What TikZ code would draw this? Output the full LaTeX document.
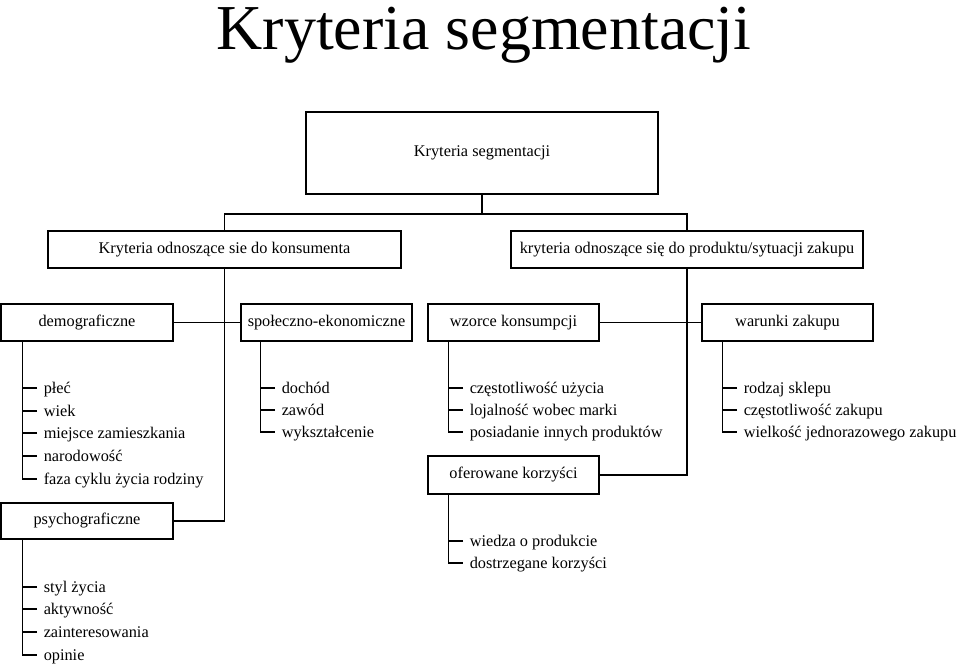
\documentclass[tikz,border=0pt]{standalone}
\usepackage{fontspec}
\setmainfont{Liberation Serif}

\begin{document}
\begin{tikzpicture}[x=1pt, y=-1pt, line width=1.5pt,
  box/.style = {draw, minimum width=171pt, minimum height=37pt, inner sep=0pt, font=\fontsize{16.3}{19}\selectfont},
  item/.style = {anchor=west, inner xsep=6pt, inner ysep=0pt, text height=12pt, text depth=2pt, font=\fontsize{16.3}{19}\selectfont}]
\useasboundingbox (0,0) rectangle (960,665);

\node (title) [anchor=base, inner sep=0pt, font=\fontsize{64}{70}\selectfont] at (484,49) {Kryteria segmentacji};

\node (root) [box, minimum width=352pt, minimum height=82pt] at (482,153) {Kryteria segmentacji};
\node (kons) [box, minimum width=353pt] at (224.5,249.5) {Kryteria odnoszące sie do konsumenta};
\node (prod) [box, minimum width=352pt] at (687,249.5) {kryteria odnoszące się do produktu/sytuacji zakupu};

\node (demo) [box, minimum width=172pt] at (87,322.5) {demograficzne};
\node (spol) [box] at (326.5,322.5) {społeczno-ekonomiczne};
\node (wzor) [box] at (513.5,322.5) {wzorce konsumpcji};
\node (waru) [box] at (787.5,322.5) {warunki zakupu};
\node (psych) [box, minimum width=172pt, minimum height=36pt] at (87,521) {psychograficzne};
\node (ofer) [box, minimum height=38pt] at (513.5,475) {oferowane korzyści};

\draw (root.south) -- ++(0,19) -| (kons.north);
\draw (root.south) -- ++(0,19) -| (prod.north);
\draw (kons.south) |- (psych.east);
\draw (prod.south) |- (ofer.east);
\draw (demo.east) -- (spol.west);
\draw (wzor.east) -- (waru.west);

% demograficzne
\node (d1) [item] at (37,388) {płeć};
\node (d2) [item] at (37,411) {wiek};
\node (d3) [item] at (37,433) {miejsce zamieszkania};
\node (d4) [item] at (37,456) {narodowość};
\node (d5) [item] at (37,479) {faza cyklu życia rodziny};
\draw ([xshift=22pt]demo.south west) |- (d5.west);
\foreach \i in {1,...,4} \draw (d\i.west) -- ++(-14,0);

% spoleczno-ekonomiczne
\node (s1) [item] at (275,388) {dochód};
\node (s2) [item] at (275,410) {zawód};
\node (s3) [item] at (275,432) {wykształcenie};
\draw ([xshift=20pt]spol.south west) |- (s3.west);
\foreach \i in {1,2} \draw (s\i.west) -- ++(-14,0);

% wzorce konsumpcji
\node (w1) [item] at (463,388) {częstotliwość użycia};
\node (w2) [item] at (463,410) {lojalność wobec marki};
\node (w3) [item] at (463,432) {posiadanie innych produktów};
\draw ([xshift=21pt]wzor.south west) |- (w3.west);
\foreach \i in {1,2} \draw (w\i.west) -- ++(-14,0);

% warunki zakupu
\node (z1) [item] at (737,388) {rodzaj sklepu};
\node (z2) [item] at (737,410) {częstotliwość zakupu};
\node (z3) [item] at (737,432) {wielkość jednorazowego zakupu};
\draw ([xshift=21pt]waru.south west) |- (z3.west);
\foreach \i in {1,2} \draw (z\i.west) -- ++(-14,0);

% psychograficzne
\node (p1) [item] at (37,587) {styl życia};
\node (p2) [item] at (37,609) {aktywność};
\node (p3) [item] at (37,632) {zainteresowania};
\node (p4) [item] at (37,655) {opinie};
\draw ([xshift=22pt]psych.south west) |- (p4.west);
\foreach \i in {1,...,3} \draw (p\i.west) -- ++(-14,0);

% oferowane korzysci
\node (o1) [item] at (463,541) {wiedza o produkcie};
\node (o2) [item] at (463,563) {dostrzegane korzyści};
\draw ([xshift=21pt]ofer.south west) |- (o2.west);
\draw (o1.west) -- ++(-14,0);
\end{tikzpicture}
\end{document}
